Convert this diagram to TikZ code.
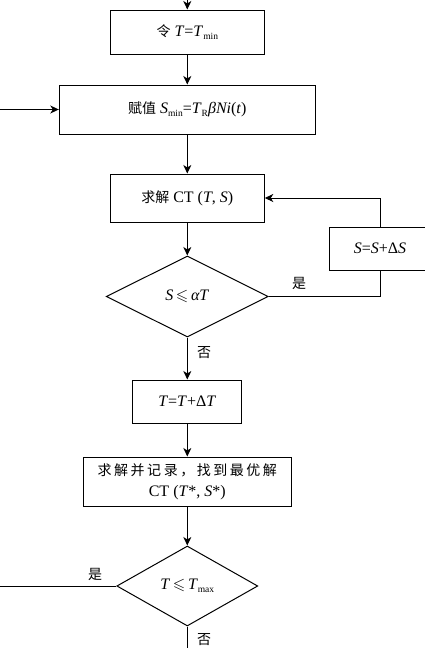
\documentclass[tikz,border=0pt]{standalone}
\usepackage{amssymb}
\usepackage{fontspec}
\setmainfont{Liberation Serif}
\newfontfamily\cjk{Noto Sans CJK SC}
\newfontfamily\cjkwide[LetterSpace=18]{Noto Sans CJK SC}
\usetikzlibrary{shapes.geometric,arrows.meta}
\newcommand{\lsub}[1]{\raisebox{-0.4ex}{\fontsize{9.5}{9.5}\selectfont #1}}
\newcommand{\iv}[1]{\textit{#1}}
\newcommand{\zh}[1]{{\cjk\fontsize{14}{18}\selectfont #1}}
\newcommand{\myleq}{\,$\leqslant$\,}
\begin{document}
\begin{tikzpicture}[x=1pt,y=-1pt,
  every node/.style={font=\fontsize{16}{20}\selectfont},
  box/.style={draw, line width=1pt, inner sep=0pt, align=center},
  dia/.style={draw, diamond, line width=1pt, inner sep=0pt, aspect=2},
  line/.style={line width=1pt},
  arr/.style={line, -{Stealth[length=8.5pt,width=8pt,inset=2.5pt]}},
  lab/.style={font=\cjk\fontsize{14}{14}\selectfont, inner sep=0pt}
]
\useasboundingbox (0,0) rectangle (425,648);
\clip (0,0) rectangle (425,648);

\coordinate (top) at (187.3,0);
\coordinate (leftin) at (0,109.5);
\coordinate (leftout) at (0,586);
\coordinate (bottom) at (187.3,648);

\node[box, minimum width=154pt, minimum height=44pt] (b1) at (187.3,32) {\zh{令} \iv{T}=\iv{T}\lsub{min}};
\node[box, minimum width=256pt, minimum height=49pt] (b2) at (187.3,109.5) {\zh{赋值} \iv{S}\lsub{min}=\iv{T}\lsub{R}\iv{βNi}(\iv{t})};
\node[box, minimum width=154pt, minimum height=48pt] (b3) at (187.3,198) {\zh{求解} CT (\iv{T}, \iv{S})};
\node[box, minimum width=102pt, minimum height=43pt] (bs) at (380,248.5) {\iv{S}=\iv{S}+Δ\iv{S}};
\node[dia, minimum width=162pt, minimum height=81pt] (d1) at (187.3,296.5) {\iv{S}\myleq\iv{αT}};
\node[box, minimum width=109pt, minimum height=43pt] (b4) at (187.3,401.5) {\iv{T}=\iv{T}+Δ\iv{T}};
\node[box, minimum width=208pt, minimum height=49pt] (b5) at (187.3,481.5) {{\cjkwide\fontsize{14}{18}\selectfont 求解并记录，找到最优解}\\[1pt]CT (\iv{T}*, \iv{S}*)};
\node[dia, minimum width=141pt, minimum height=80pt] (d2) at (187.3,586) {\iv{T}\myleq\iv{T}\lsub{max}};

\node[lab] (y1) at (299,283) {是};
\node[lab] (n1) at (204,353) {否};
\node[lab] (y2) at (95,574) {是};
\node[lab] (n2) at (204,640) {否};

\draw[arr] (top) -- (b1);
\draw[arr] (b1) -- (b2);
\draw[arr] (leftin) -- (b2.west);
\draw[arr] (b2) -- (b3);
\draw[arr] (b3) -- (d1);
\draw[line] (d1.east) -| (bs.south);
\draw[arr] (bs.north) |- (b3.east);
\draw[arr] (d1.south) -- (b4);
\draw[arr] (b4) -- (b5);
\draw[arr] (b5) -- (d2);
\draw[line] (d2.west) -- (leftout);
\draw[line] (d2.south) -- (bottom);
\end{tikzpicture}
\end{document}
